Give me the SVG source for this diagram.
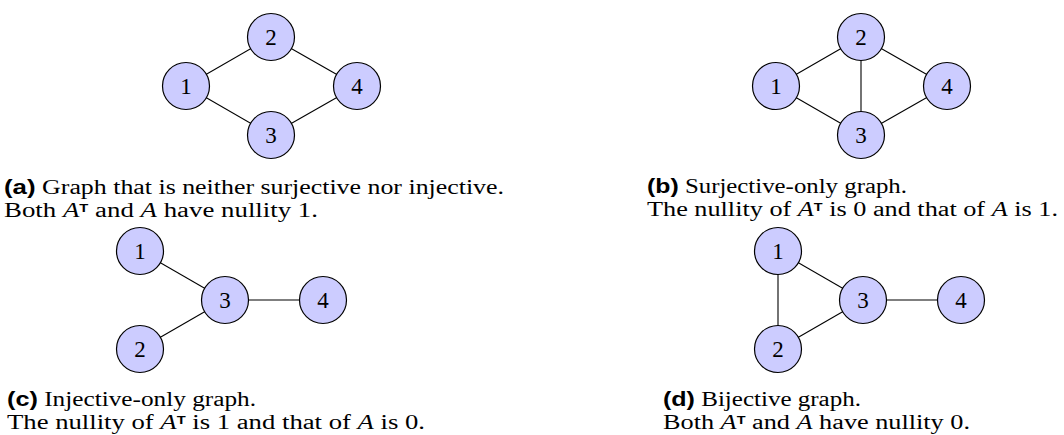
<svg xmlns="http://www.w3.org/2000/svg" width="1064" height="435" viewBox="0 0 1064 435">
<style>
.edge{stroke:#000;stroke-width:1.1;fill:none}
.node circle{fill:#ccccff;stroke:#000;stroke-width:1.2}
.node text{font-family:'Liberation Serif','DejaVu Serif',serif;font-size:23px;text-anchor:middle;fill:#000}
.cap{font-family:'Liberation Serif','DejaVu Serif',serif;font-size:20px;fill:#000}
.lbl{font-family:'Liberation Sans','DejaVu Sans',sans-serif;font-weight:bold}
.it{font-style:italic}
.sup{font-family:'Liberation Sans','DejaVu Sans',sans-serif;font-size:11px;font-weight:bold}
</style>
<rect width="1064" height="435" fill="#fff"/>
<g id="connectors">
<line class="edge" x1="186" y1="86" x2="271" y2="37"/>
<line class="edge" x1="186" y1="86" x2="271" y2="135"/>
<line class="edge" x1="271" y1="37" x2="357" y2="86"/>
<line class="edge" x1="271" y1="135" x2="357" y2="86"/>
<line class="edge" x1="776" y1="86" x2="861" y2="37"/>
<line class="edge" x1="776" y1="86" x2="861" y2="135"/>
<line class="edge" x1="861" y1="37" x2="947" y2="86"/>
<line class="edge" x1="861" y1="135" x2="947" y2="86"/>
<line class="edge" x1="861" y1="37" x2="861" y2="135"/>
<line class="edge" x1="140" y1="251" x2="225" y2="300"/>
<line class="edge" x1="140" y1="349" x2="225" y2="300"/>
<line class="edge" x1="225" y1="300" x2="323" y2="300"/>
<line class="edge" x1="778" y1="251" x2="863" y2="300"/>
<line class="edge" x1="778" y1="349" x2="863" y2="300"/>
<line class="edge" x1="778" y1="251" x2="778" y2="349"/>
<line class="edge" x1="863" y1="300" x2="961" y2="300"/>
</g>
<g id="a1" class="node"><circle cx="186" cy="86" r="23.5"/><text x="186" y="94">1</text></g>
<g id="a2" class="node"><circle cx="271" cy="37" r="23.5"/><text x="271" y="45">2</text></g>
<g id="a3" class="node"><circle cx="271" cy="135" r="23.5"/><text x="271" y="143">3</text></g>
<g id="a4" class="node"><circle cx="357" cy="86" r="23.5"/><text x="357" y="94">4</text></g>
<g id="b1" class="node"><circle cx="776" cy="86" r="23.5"/><text x="776" y="94">1</text></g>
<g id="b2" class="node"><circle cx="861" cy="37" r="23.5"/><text x="861" y="45">2</text></g>
<g id="b3" class="node"><circle cx="861" cy="135" r="23.5"/><text x="861" y="143">3</text></g>
<g id="b4" class="node"><circle cx="947" cy="86" r="23.5"/><text x="947" y="94">4</text></g>
<g id="c1" class="node"><circle cx="140" cy="251" r="23.5"/><text x="140" y="259">1</text></g>
<g id="c2" class="node"><circle cx="140" cy="349" r="23.5"/><text x="140" y="357">2</text></g>
<g id="c3" class="node"><circle cx="225" cy="300" r="23.5"/><text x="225" y="308">3</text></g>
<g id="c4" class="node"><circle cx="323" cy="300" r="23.5"/><text x="323" y="308">4</text></g>
<g id="d1" class="node"><circle cx="778" cy="251" r="23.5"/><text x="778" y="259">1</text></g>
<g id="d2" class="node"><circle cx="778" cy="349" r="23.5"/><text x="778" y="357">2</text></g>
<g id="d3" class="node"><circle cx="863" cy="300" r="23.5"/><text x="863" y="308">3</text></g>
<g id="d4" class="node"><circle cx="961" cy="300" r="23.5"/><text x="961" y="308">4</text></g>
<g id="captions">
<text class="cap" x="4" y="194" textLength="500" lengthAdjust="spacingAndGlyphs"><tspan class="lbl">(a)</tspan> Graph that is neither surjective nor injective.</text>
<text class="cap" x="4" y="217" textLength="314" lengthAdjust="spacingAndGlyphs">Both <tspan class="it">A</tspan><tspan class="sup" baseline-shift="5.5">T</tspan> and <tspan class="it">A</tspan> have nullity 1.</text>
<text class="cap" x="647" y="193" textLength="260" lengthAdjust="spacingAndGlyphs"><tspan class="lbl">(b)</tspan> Surjective-only graph.</text>
<text class="cap" x="647" y="216" textLength="411" lengthAdjust="spacingAndGlyphs">The nullity of <tspan class="it">A</tspan><tspan class="sup" baseline-shift="5.5">T</tspan> is 0 and that of <tspan class="it">A</tspan> is 1.</text>
<text class="cap" x="7" y="406" textLength="249" lengthAdjust="spacingAndGlyphs"><tspan class="lbl">(c)</tspan> Injective-only graph.</text>
<text class="cap" x="7" y="429" textLength="418" lengthAdjust="spacingAndGlyphs">The nullity of <tspan class="it">A</tspan><tspan class="sup" baseline-shift="5.5">T</tspan> is 1 and that of <tspan class="it">A</tspan> is 0.</text>
<text class="cap" x="663" y="406" textLength="198" lengthAdjust="spacingAndGlyphs"><tspan class="lbl">(d)</tspan> Bijective graph.</text>
<text class="cap" x="663" y="429" textLength="307" lengthAdjust="spacingAndGlyphs">Both <tspan class="it">A</tspan><tspan class="sup" baseline-shift="5.5">T</tspan> and <tspan class="it">A</tspan> have nullity 0.</text>
</g>
</svg>
